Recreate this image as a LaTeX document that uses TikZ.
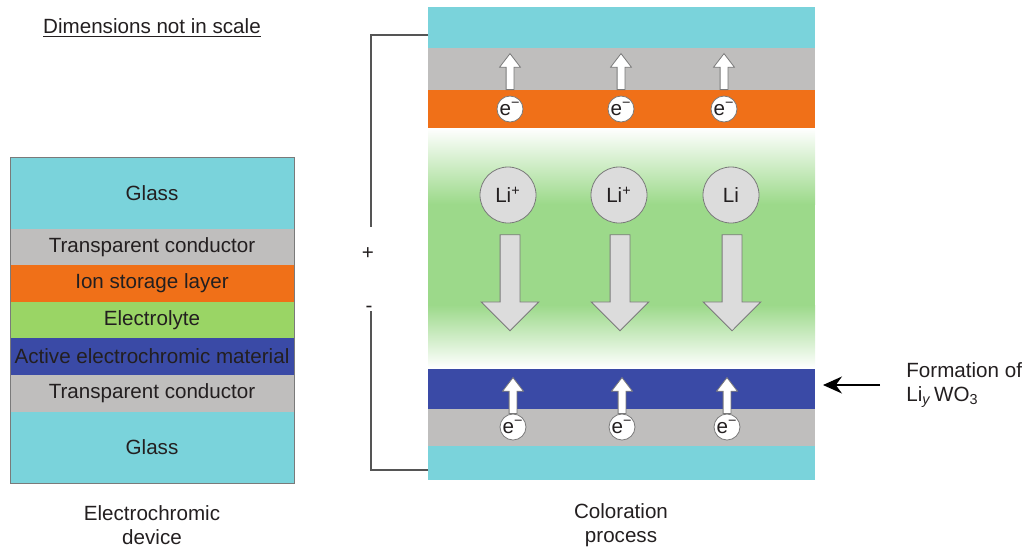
\documentclass[tikz,border=0pt]{standalone}
\usepackage{fontspec}
\setmainfont{Liberation Sans}
\usetikzlibrary{arrows.meta,positioning,shapes.arrows}
\definecolor{glass}{HTML}{7AD3DB}
\definecolor{tcgray}{HTML}{BFBEBD}
\definecolor{ionorange}{HTML}{F07018}
\definecolor{elgreen}{HTML}{9AD565}
\definecolor{elgreenr}{HTML}{9CD98A}
\definecolor{actblue}{HTML}{3A4AA6}
\definecolor{wiregray}{HTML}{555555}
\definecolor{cgray}{HTML}{7A7A7A}
\definecolor{ligray}{HTML}{DCDCDC}
\definecolor{txt}{HTML}{231F20}

\begin{document}
\begin{tikzpicture}[x=0.5pt,y=-0.5pt,font=\fontsize{10.3}{12.2}\selectfont,text=txt,
  lay/.style={minimum width=142pt,inner sep=0,outer sep=0,align=center},
  rlay/.style={minimum width=193.5pt,inner sep=0,outer sep=0},
  ecirc/.style={circle,draw=cgray,fill=white,minimum size=13pt,inner sep=0},
  licirc/.style={circle,draw=cgray,fill=ligray,minimum size=28pt,inner sep=0},
  uparr/.style={single arrow,draw=cgray,fill=white,rotate=90,anchor=tail,minimum height=18pt,
    inner xsep=0,inner ysep=1.75pt,single arrow head extend=3.25pt,single arrow tip angle=75},
  downarr/.style={single arrow,draw=cgray,fill=ligray,rotate=-90,anchor=tail,minimum height=48pt,
    inner xsep=0,inner ysep=4.75pt,single arrow head extend=9.5pt,single arrow tip angle=90},
  wire/.style={draw=wiregray,line width=0.7pt}]
  \useasboundingbox (0,0) rectangle (1024,548);
  % device stack
  \node[lay,fill=glass,minimum height=36pt,anchor=north west](lg1) at (10,157){Glass};
  \node[lay,fill=tcgray,minimum height=18pt,below=0pt of lg1](ltc1){Transparent conductor};
  \node[lay,fill=ionorange,minimum height=18.5pt,below=0pt of ltc1](lion){Ion storage layer};
  \node[lay,fill=elgreen,minimum height=18pt,below=0pt of lion](lel){Electrolyte};
  \node[lay,fill=actblue,minimum height=18.5pt,below=0pt of lel](lac){Active electrochromic material};
  \node[lay,fill=tcgray,minimum height=18.5pt,below=0pt of lac](ltc2){Transparent conductor};
  \node[lay,fill=glass,minimum height=35.5pt,below=0pt of ltc2](lg2){Glass};
  \draw[draw=cgray,line width=0.4pt](lg1.north west) rectangle (lg2.south east);
  % coloration stack
  \node[rlay,fill=glass,minimum height=20.5pt,anchor=north west](rg1) at (428,7){};
  \node[rlay,fill=tcgray,minimum height=21pt,below=0pt of rg1](rtc1){};
  \node[rlay,fill=ionorange,minimum height=19pt,below=0pt of rtc1](rion){};
  \node[rlay,fill=elgreenr,minimum height=120pt,below=0pt of rion](rel){};
  \node[rlay,fill=actblue,minimum height=20.5pt,below=0pt of rel](rac){};
  \node[rlay,fill=tcgray,minimum height=18.5pt,below=0pt of rac](rtc2){};
  \node[rlay,fill=glass,minimum height=17pt,below=0pt of rtc2](rg2){};
  \shade[top color=white,bottom color=elgreenr](rel.north west) rectangle ([yshift=-38pt]rel.north east);
  \shade[top color=elgreenr,bottom color=white]([yshift=31.5pt]rel.south west) rectangle (rel.south east);
  % electrons, top
  \node[ecirc](et1) at (510,109){e\textsuperscript{−}};
  \node[ecirc](et2) at (621,109){e\textsuperscript{−}};
  \node[ecirc](et3) at (724,109){e\textsuperscript{−}};
  \node[uparr](ut1) at (et1 |- rion.north){};
  \node[uparr](ut2) at (et2 |- rion.north){};
  \node[uparr](ut3) at (et3 |- rion.north){};
  % lithium
  \node[licirc](li1) at (508,195){Li\textsuperscript{+}};
  \node[licirc](li2) at (619,195){Li\textsuperscript{+}};
  \node[licirc](li3) at (731,195){Li};
  \node[downarr](d1) at ([xshift=1pt,yshift=-5.5pt]li1.south){};
  \node[downarr](d2) at ([xshift=0.5pt,yshift=-5.5pt]li2.south){};
  \node[downarr](d3) at ([xshift=0.5pt,yshift=-5.5pt]li3.south){};
  % electrons, bottom
  \node[uparr](ub1) at (513,414){};
  \node[uparr](ub2) at (622,414){};
  \node[uparr](ub3) at (727,414){};
  \node[ecirc](eb1) at (513,427){e\textsuperscript{−}};
  \node[ecirc](eb2) at (622,427){e\textsuperscript{−}};
  \node[ecirc](eb3) at (727,427){e\textsuperscript{−}};
  % circuit
  \coordinate(wtop) at (371,35);
  \coordinate(wtopend) at (371,227);
  \coordinate(wbot) at (371,470);
  \coordinate(wbotend) at (371,311);
  \draw[wire](rg1.west |- wtop)--(wtop)--(wtopend);
  \draw[wire](rg2.west |- wbot)--(wbot)--(wbotend);
  \node(plus) at (368,254){+};
  \node(minus) at (369,309){-};
  % labels
  \node[anchor=base](dims) at (152,33){\underline{Dimensions not in scale}};
  \node[align=center](devl) at (152,525){Electrochromic\\device};
  \node[align=center](procl) at (621,525){Coloration\\process};
  \node[align=left,anchor=west,inner sep=0](form) at (906,385){Formation of\\Li\textsubscript{\itshape y}\,WO\textsubscript{3}};
  \draw[-{Stealth[length=9.5pt,width=8.5pt]},line width=0.6pt,shorten <=13pt,shorten >=4pt]
    (form.west)--(form.west -| rac.east);
\end{tikzpicture}
\end{document}
